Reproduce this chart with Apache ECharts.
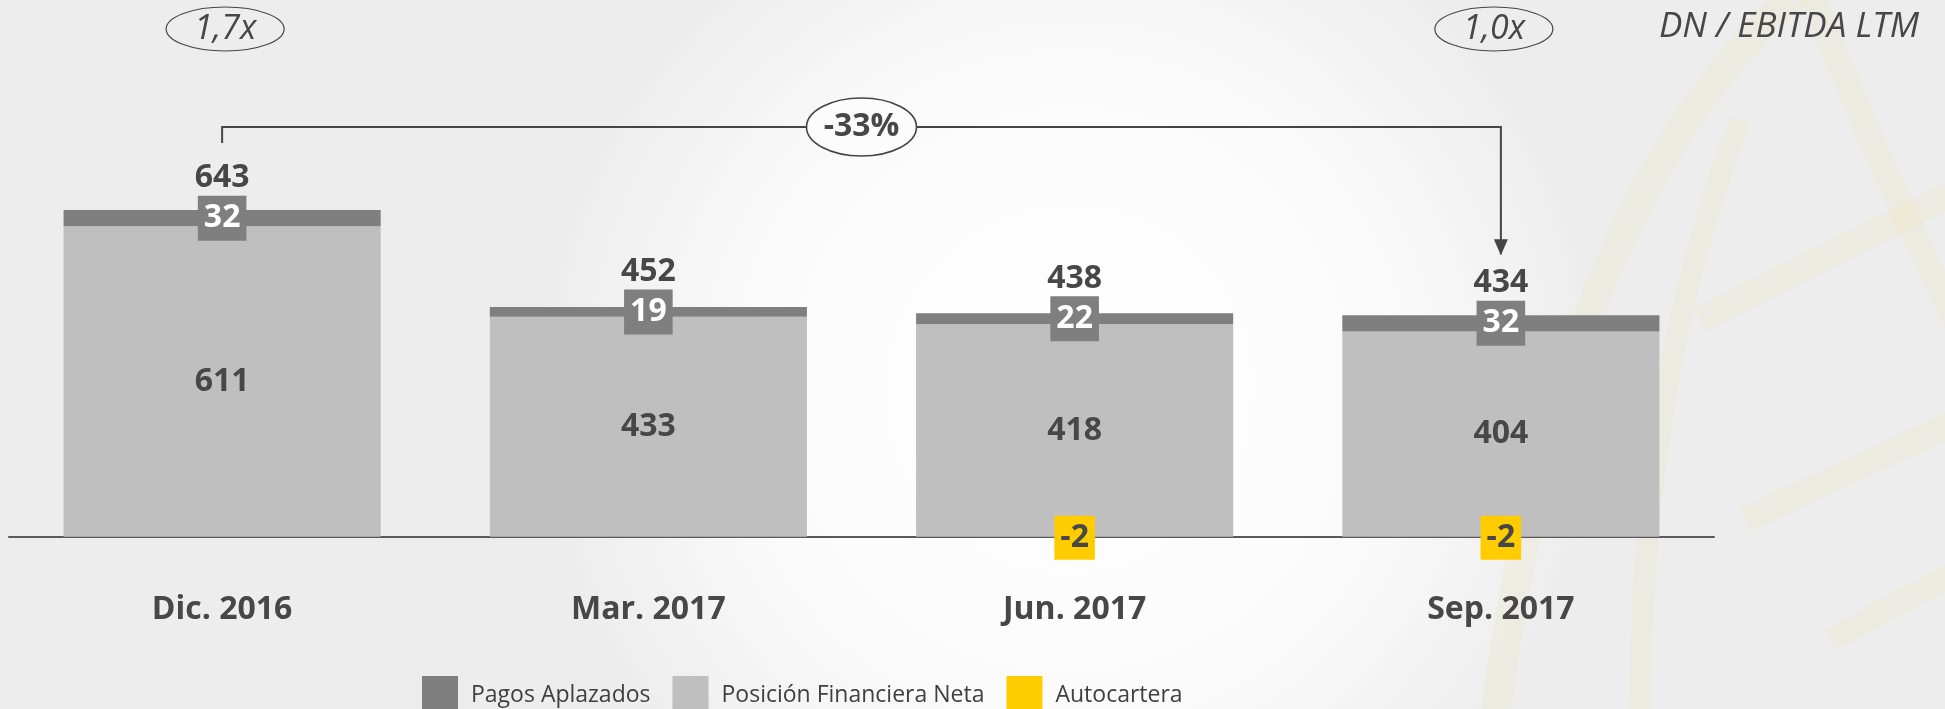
<!DOCTYPE html>
<html>
<head>
<meta charset="utf-8">
<script src="https://cdn.jsdelivr.net/npm/echarts@6/dist/echarts.min.js"></script>
<style>
html,body{margin:0;padding:0;background:#fafafa;}
#c{width:1945px;height:709px;}
</style>
</head>
<body>
<div id="c"></div>
<script>
// ---- data ----
const categories = ['Dic. 2016', 'Mar. 2017', 'Jun. 2017', 'Sep. 2017'];
const posicionFinanciera = [611, 433, 418, 404];
const pagosAplazados = [32, 19, 22, 32];
const autocartera = ['-', '-', -2, -2];
const totals = [643, 452, 438, 434];
const ratioLabels = ['1,7x', '1,0x'];
const ratioTitle = 'DN / EBITDA LTM';
const changeLabel = '-33%';

const FONT = "'Open Sans', 'Noto Sans', sans-serif";
const TXT = '#474747';

const chart = echarts.init(document.getElementById('c'), null, {renderer: 'canvas'});

const totalPos = categories.map((c, i) => posicionFinanciera[i] + pagosAplazados[i] / 2);

const boxLabel = {fontFamily: FONT, fontSize: 32, fontWeight: 'bold', padding: [5, 6, 5, 6], lineHeight: 35};

const option = {
  backgroundColor: 'transparent',
  animation: false,
  textStyle: {fontFamily: FONT},
  grid: {left: 9, right: 231, top: 181.1, bottom: 121.5, containLabel: false},
  legend: {
    data: ['Pagos Aplazados', 'Posición Financiera Neta', 'Autocartera'],
    left: 417, top: 671,
    itemWidth: 36, itemHeight: 38, itemGap: 22,
    icon: 'rect',
    textStyle: {fontFamily: FONT, fontSize: 23, color: '#404040', padding: [0, 0, 0, 8]}
  },
  xAxis: {
    type: 'category',
    data: categories,
    z: 1.5,
    axisLine: {show: true, onZero: true, lineStyle: {color: '#5a5a5a', width: 2}},
    axisTick: {show: false},
    axisLabel: {margin: 6, fontFamily: FONT, fontSize: 32, fontWeight: 'bold', color: TXT}
  },
  yAxis: {
    type: 'value', min: -100, max: 700, show: false,
    splitLine: {show: false}
  },
  series: [
    {
      name: 'Posición Financiera Neta', type: 'bar', stack: 'a',
      barCategoryGap: '25.6%',
      data: posicionFinanciera,
      itemStyle: {color: '#bfbfbf'},
      label: {show: true, position: 'inside', fontFamily: FONT, fontSize: 32, fontWeight: 'bold', color: TXT}
    },
    {
      name: 'Pagos Aplazados', type: 'bar', stack: 'a',
      data: pagosAplazados,
      itemStyle: {color: '#7f7f7f'},
      label: Object.assign({show: true, position: 'inside', color: '#ffffff', backgroundColor: '#7f7f7f'}, boxLabel)
    },
    {
      name: 'Autocartera', type: 'bar', stack: 'a', z: 1,
      data: autocartera,
      itemStyle: {color: '#ffcc00'},
      label: {show: false}
    },
    {
      name: 'autocarteraLabel', type: 'scatter', symbolSize: 0, z: 5,
      data: autocartera,
      itemStyle: {opacity: 1},
      label: Object.assign({show: true, position: 'inside', color: TXT, backgroundColor: '#ffcc00',
        formatter: p => String(p.value)}, boxLabel, {lineHeight: 34})
    },
    {
      name: 'total', type: 'scatter', symbolSize: 0, z: 5,
      data: totalPos,
      itemStyle: {opacity: 1},
      label: {show: true, position: 'top', distance: 24, fontFamily: FONT, fontSize: 32, fontWeight: 'bold',
        color: TXT, lineHeight: 32, opacity: 1,
        formatter: p => String(totals[p.dataIndex])}
    }
  ]
};
chart.setOption(option);

// ---- annotations (positioned from the chart's own scales) ----
const xs = categories.map(c => chart.convertToPixel({xAxisIndex: 0}, c));
const x1 = xs[0], x4 = xs[3];
const lineY = 127;
const topTotal4 = chart.convertToPixel({yAxisIndex: 0}, totalPos[3]) - 24 - 32 + 4;
const arrowTip = topTotal4 - 16;
const midX = (x1 + x4) / 2;
const stroke = '#454545';
const wm = 'rgba(238,226,160,0.16)';

const graphics = [
  // background
  {type: 'rect', z: -10, silent: true, shape: {x: 0, y: 0, width: 1945, height: 709},
    style: {fill: new echarts.graphic.RadialGradient(0.55, 0.55, 0.75, [
      {offset: 0, color: '#ffffff'}, {offset: 0.6, color: '#fbfbfb'}, {offset: 1, color: '#ededed'}])}},
  // faint watermark globe
  {type: 'bezierCurve', z: -9, silent: true, shape: {x1: 1495, y1: 720, x2: 1800, y2: -10, cpx1: 1560, cpy1: 200},
    style: {stroke: wm, lineWidth: 30, fill: null}},
  {type: 'bezierCurve', z: -9, silent: true, shape: {x1: 1640, y1: 720, x2: 1740, y2: 120, cpx1: 1640, cpy1: 380},
    style: {stroke: wm, lineWidth: 22, fill: null}},
  {type: 'bezierCurve', z: -9, silent: true, shape: {x1: 1810, y1: -10, x2: 1960, y2: 330, cpx1: 1880, cpy1: 170},
    style: {stroke: wm, lineWidth: 26, fill: null}},
  {type: 'line', z: -9, silent: true, shape: {x1: 1700, y1: 320, x2: 1960, y2: 190},
    style: {stroke: wm, lineWidth: 26}},
  {type: 'line', z: -9, silent: true, shape: {x1: 1745, y1: 520, x2: 1960, y2: 420},
    style: {stroke: wm, lineWidth: 26}},
  {type: 'line', z: -9, silent: true, shape: {x1: 1830, y1: 640, x2: 1960, y2: 570},
    style: {stroke: wm, lineWidth: 24}},
  // bracket
  {type: 'polyline', z: 10, shape: {points: [[x1, 143], [x1, lineY], [x4, lineY], [x4, arrowTip - 1]]},
    style: {stroke: stroke, lineWidth: 2, fill: null}},
  {type: 'polygon', z: 10, shape: {points: [[x4 - 7, arrowTip - 16], [x4 + 7, arrowTip - 16], [x4, arrowTip]]},
    style: {fill: stroke}},
  // -33% ellipse
  {type: 'ellipse', z: 11, shape: {cx: midX, cy: lineY, rx: 55, ry: 29},
    style: {fill: '#fcfcfc', stroke: stroke, lineWidth: 1.6}},
  {type: 'text', z: 12, style: {text: changeLabel, x: midX, y: lineY, align: 'center', verticalAlign: 'middle',
    font: "bold 32px 'Open Sans', sans-serif", fill: TXT}},
  // ratio ellipses
  {type: 'ellipse', z: 11, shape: {cx: x1 + 3, cy: 29, rx: 59, ry: 22},
    style: {fill: 'none', stroke: stroke, lineWidth: 1.2}},
  {type: 'text', z: 12, style: {text: ratioLabels[0], x: x1 + 3, y: 29, align: 'center', verticalAlign: 'middle',
    font: "italic 34px 'Open Sans', sans-serif", fill: TXT}},
  {type: 'ellipse', z: 11, shape: {cx: x4 - 7, cy: 29, rx: 59, ry: 22},
    style: {fill: 'none', stroke: stroke, lineWidth: 1.2}},
  {type: 'text', z: 12, style: {text: ratioLabels[1], x: x4 - 7, y: 29, align: 'center', verticalAlign: 'middle',
    font: "italic 34px 'Open Sans', sans-serif", fill: TXT}},
  {type: 'text', z: 12, style: {text: ratioTitle, x: 1919, y: 27, align: 'right', verticalAlign: 'middle',
    font: "italic 35px 'Open Sans', sans-serif", fill: TXT}}
];
chart.setOption({graphic: graphics});
</script>
</body>
</html>
